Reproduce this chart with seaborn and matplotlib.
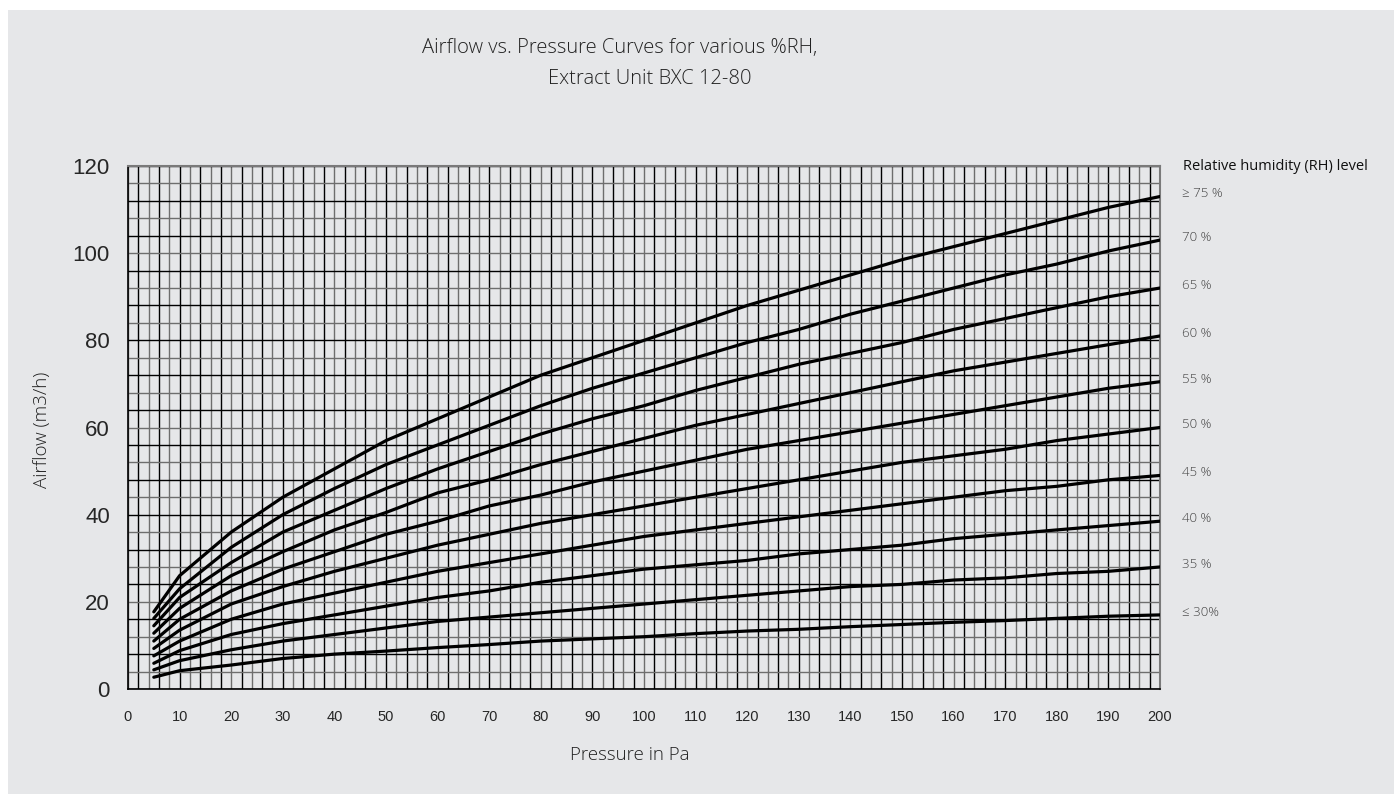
import numpy as np
import pandas as pd
import matplotlib
matplotlib.use("Agg")
import matplotlib.pyplot as plt
import seaborn as sns
from matplotlib.patches import Rectangle

# 壓力點 (Pa)
pressure = [5, 10, 20, 30, 40, 50, 60, 70, 80, 90, 100,
            110, 120, 130, 140, 150, 160, 170, 180, 190, 200]

# 各濕度等級的風量 (m3/h)
rh_labels = ["≥ 75 %", "70 %", "65 %", "60 %", "55 %",
             "50 %", "45 %", "40 %", "35 %", "≤ 30%"]
rh75 = [17.7, 26, 36, 44, 50.5, 57, 62, 67, 72, 76, 80, 84, 88, 91.5, 95, 98.5, 101.5, 104.5, 107.5, 110.5, 113]
rh70 = [16.2, 23, 32.5, 40, 46, 51.5, 56, 60.5, 65, 69, 72.5, 76, 79.5, 82.5, 86, 89, 92, 95, 97.5, 100.5, 103]
rh65 = [14.5, 21, 29, 36, 41, 46, 50.5, 54.5, 58.5, 62, 65, 68.5, 71.5, 74.5, 77, 79.5, 82.5, 85, 87.5, 90, 92]
rh60 = [12.8, 18.5, 26, 31.5, 36.5, 40.5, 45, 48, 51.5, 54.5, 57.5, 60.5, 63, 65.5, 68, 70.5, 73, 75, 77, 79, 81]
rh55 = [11.0, 16, 22.5, 27.5, 31.5, 35.5, 38.5, 42, 44.5, 47.5, 50, 52.5, 55, 57, 59, 61, 63, 65, 67, 69, 70.5]
rh50 = [9.3, 13.5, 19.5, 23.5, 27, 30, 33, 35.5, 38, 40, 42, 44, 46, 48, 50, 52, 53.5, 55, 57, 58.5, 60]
rh45 = [7.6, 11, 16, 19.5, 22, 24.5, 27, 29, 31, 33, 35, 36.5, 38, 39.5, 41, 42.5, 44, 45.5, 46.5, 48, 49]
rh40 = [5.9, 8.8, 12.5, 15, 17, 19, 21, 22.5, 24.5, 26, 27.5, 28.5, 29.5, 31, 32, 33, 34.5, 35.5, 36.5, 37.5, 38.5]
rh35 = [4.4, 6.5, 9, 11, 12.5, 14, 15.5, 16.5, 17.5, 18.5, 19.5, 20.5, 21.5, 22.5, 23.5, 24, 25, 25.5, 26.5, 27, 28]
rh30 = [2.7, 4.2, 5.5, 7, 8, 8.7, 9.5, 10.2, 11, 11.5, 12, 12.7, 13.3, 13.7, 14.3, 14.8, 15.3, 15.7, 16.2, 16.7, 17]
series = [rh75, rh70, rh65, rh60, rh55, rh50, rh45, rh40, rh35, rh30]

rows = []
for label, vals in zip(rh_labels, series):
    for p, v in zip(pressure, vals):
        rows.append({"Pressure": p, "Airflow": v, "RH": label})
df = pd.DataFrame(rows)

BG = "#e6e7e9"
GRID_DARK = "#000000"
GRID_GREY = "#6e6e6e"

sns.set_style("white")
plt.rcParams["font.family"] = ["Liberation Sans", "DejaVu Sans"]

fig = plt.figure(figsize=(13.94, 7.94), dpi=100)
fig.patch.set_facecolor("white")
fig.add_artist(Rectangle((8 / 1394, 0), 1 - 8 / 1394, 1 - 10 / 794,
                         transform=fig.transFigure, facecolor=BG,
                         edgecolor="none", zorder=-10))

ax = fig.add_axes([128 / 1394, 1 - 689 / 794, (1160 - 128) / 1394, (689 - 166) / 794])
ax.set_facecolor(BG)

# 網格：交替黑/灰
for i, gx in enumerate(np.arange(0, 201, 2)):
    ax.axvline(gx, color=GRID_DARK if i % 2 else GRID_GREY, lw=1.0, zorder=1)
for i, gy in enumerate(np.arange(0, 121, 4)):
    ax.axhline(gy, color=GRID_GREY if i % 2 else GRID_DARK, lw=1.0, zorder=1)

sns.lineplot(data=df, x="Pressure", y="Airflow", hue="RH", hue_order=rh_labels,
             palette=["black"] * len(rh_labels), linewidth=2.3, legend=False,
             ax=ax, zorder=3)

ax.set_xlim(0, 200)
ax.set_ylim(0, 120)
ax.set_xticks(np.arange(0, 201, 10))
ax.set_yticks(np.arange(0, 121, 20))
ax.tick_params(axis="x", labelsize=10.5, length=7, width=1, color="black", pad=8)
ax.tick_params(axis="y", labelsize=16, length=7, width=1, color="black", pad=6)

for side in ["left", "bottom"]:
    ax.spines[side].set_color("black")
    ax.spines[side].set_linewidth(1.2)
for side in ["right", "top"]:
    ax.spines[side].set_color("#7a7a7a")
    ax.spines[side].set_linewidth(1.5)

ax.set_xlabel("")
ax.set_ylabel("")

light = dict(family=["Open Sans", "DejaVu Sans"], fontweight="light", color="#222222")
fig.text(620 / 1394, 1 - 48 / 794, "Airflow vs. Pressure Curves for various %RH,",
         ha="center", va="center", fontsize=14.5, **light)
fig.text(650 / 1394, 1 - 79 / 794, "Extract Unit BXC 12-80",
         ha="center", va="center", fontsize=14.5, **light)
fig.text(630 / 1394, 1 - 755 / 794, "Pressure in Pa",
         ha="center", va="center", fontsize=13.5, **light)
fig.text(42 / 1394, 1 - 430 / 794, "Airflow (m3/h)", rotation=90,
         ha="center", va="center", fontsize=13.5, **light)

# 右側濕度標籤
ax.text(1.022, 120, "Relative humidity (RH) level", transform=ax.get_yaxis_transform(),
        ha="left", va="center", fontsize=10.5, family=["Open Sans", "DejaVu Sans"], color="#111111")
for label, vals in zip(rh_labels, series):
    ax.text(1.021, vals[-1] + 0.6, label, transform=ax.get_yaxis_transform(),
            ha="left", va="center", fontsize=9.5, family=["Open Sans", "DejaVu Sans"],
            fontweight="light", color="#444444")

fig.savefig("out.png", dpi=100, facecolor=fig.get_facecolor())
